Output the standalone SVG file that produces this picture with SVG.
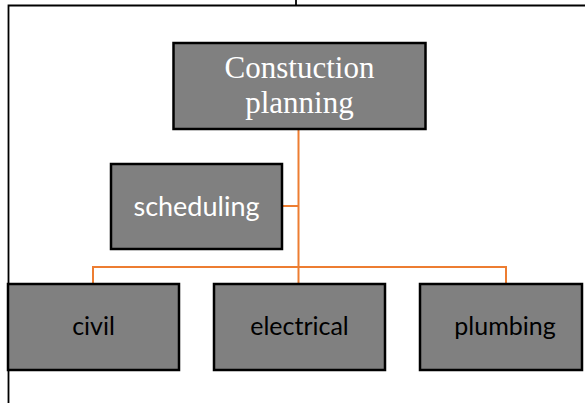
<svg xmlns="http://www.w3.org/2000/svg" width="585" height="403" viewBox="0 0 585 403">
<style>
.box{fill:#808080;stroke:#000;stroke-width:2.5}
.conn{stroke:#ED7D31;stroke-width:2;fill:none}
.frame{stroke:#000;stroke-width:1.8;fill:none}
.serif{font-family:"Liberation Serif","Times New Roman",serif;font-size:31px;fill:#fff;text-anchor:middle}
.sans{font-family:Lato,"Open Sans",sans-serif;font-size:25px;text-anchor:middle}
.big{font-size:27px}
</style>
<rect width="585" height="403" fill="#fff"/>
<g id="frame">
<path class="frame" d="M8.5,403 V5.5 H585"/>
<path class="frame" d="M296,0 V6"/>
</g>
<g id="connectors">
<path class="conn" d="M298.5,129 V267"/>
<path class="conn" d="M282,206 H298.5"/>
<path class="conn" d="M93,284 V267 H506 V284"/>
<path class="conn" d="M298.5,267 V284"/>
</g>
<g id="construction">
<rect class="box" x="173.5" y="43" width="252" height="86"/>
<text class="serif" x="299.5" y="78">Constuction</text>
<text class="serif" x="299.5" y="113">planning</text>
</g>
<g id="scheduling">
<rect class="box" x="111" y="164" width="171" height="85"/>
<text class="sans big" x="196.5" y="216" fill="#fff">scheduling</text>
</g>
<g id="civil">
<rect class="box" x="8" y="284" width="171" height="86"/>
<text class="sans" x="93.5" y="335" fill="#000">civil</text>
</g>
<g id="electrical">
<rect class="box" x="214" y="284" width="171" height="86"/>
<text class="sans" x="299.5" y="335" fill="#000">electrical</text>
</g>
<g id="plumbing">
<rect class="box" x="420" y="284" width="162" height="86"/>
<text class="sans" x="505" y="335" fill="#000">plumbing</text>
</g>
</svg>
